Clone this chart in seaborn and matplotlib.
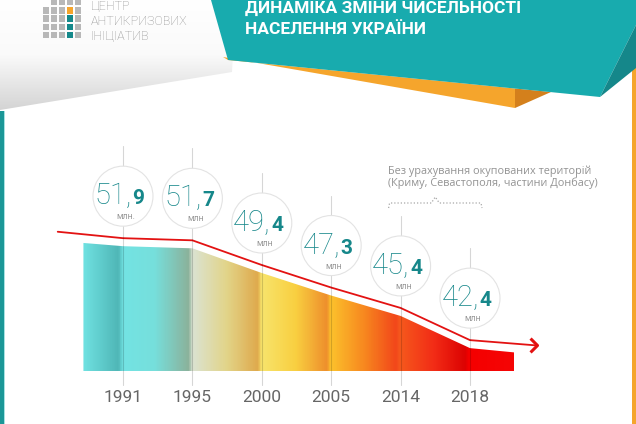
import matplotlib
matplotlib.use('Agg')
import matplotlib.pyplot as plt
import matplotlib.patches as mpatches
import matplotlib.transforms as mtransforms
from matplotlib.colors import LinearSegmentedColormap
from matplotlib.path import Path
import seaborn as sns
import numpy as np
import pandas as pd

# --- 1. data ---
years = ['1991', '1995', '2000', '2005', '2014', '2018']
population = [51.9, 51.7, 49.4, 47.3, 45.4, 42.4]          # млн
units = ['млн.', 'млн', 'млн', 'млн', 'млн', 'млн']
area_edge_vals = [52.2, 42.0]      # fill tails before 1991 / after 2018
line_edge_vals = [52.5, 41.9]      # red line tails
title_lines = ['ДИНАМІКА ЗМІНИ ЧИСЕЛЬНОСТІ', 'НАСЕЛЕННЯ УКРАЇНИ']
logo_lines = ['ЦЕНТР', 'АНТИКРИЗОВИХ', 'ІНІЦІАТИВ']
note_lines = ['Без урахування окупованих територій',
              '(Криму, Севастополя, частини Донбасу)']

df = pd.DataFrame({'year': years, 'pos': np.arange(len(years)), 'pop': population})

# --- 2. figure / axes ---
W, H = 636, 424
sns.set_theme(style='white')
plt.rcParams['font.family'] = ['Roboto', 'DejaVu Sans']
fig = plt.figure(figsize=(W / 100, H / 100), dpi=100, facecolor='white')

ax = fig.add_axes([0, 0, 1, 1], zorder=1)
floor = 40.27   # bottom of the coloured area

teal = '#16878a'
red = '#e31212'

# a) gradient area
area_x = [-0.57] + list(df['pos']) + [5.64]
area_y = [area_edge_vals[0]] + list(df['pop']) + [area_edge_vals[1]]
stops = [(-0.57, '#6fe1e1'), (-0.07, '#4fb6b6'), (0.0, '#73e3e3'), (0.45, '#76dfdc'),
         (0.95, '#8bb19a'), (1.0, '#dbe3d2'), (1.5, '#e2d488'), (1.95, '#dfa94c'),
         (2.0, '#f7e46c'), (2.5, '#f9cf40'), (2.95, '#ee8e2c'), (3.0, '#fcc22c'),
         (3.5, '#f7861f'), (3.95, '#f2461a'), (4.0, '#f6591d'), (4.5, '#f22c16'),
         (4.95, '#dc0202'), (5.0, '#f50000'), (5.64, '#f50505')]
x0, x1 = area_x[0], area_x[-1]
cmap = LinearSegmentedColormap.from_list('pop', [((s - x0) / (x1 - x0), c) for s, c in stops])
grad = cmap(np.linspace(0, 1, 800))[None, :, :]
im = ax.imshow(grad, extent=[x0, x1, floor, max(area_y) + 1], aspect='auto',
               interpolation='bilinear', origin='lower', zorder=1)
poly = ax.fill_between(area_x, area_y, floor, facecolor='none', edgecolor='none')
im.set_clip_path(poly.get_paths()[0], transform=ax.transData)

# b) red trend line, lifted a few pixels above the area
lift = mtransforms.offset_copy(ax.transData, fig=fig, x=0, y=8, units='dots')
line_x = [-0.94] + list(df['pos']) + [5.97]
line_y = [line_edge_vals[0]] + list(df['pop']) + [line_edge_vals[1]]
sns.lineplot(x=line_x, y=line_y, ax=ax, color=red, lw=1.3, sort=False,
             transform=lift, zorder=3)
chevron = Path([(-1, 1), (0, 0), (-1, -1)], [Path.MOVETO, Path.LINETO, Path.LINETO])
ax.plot([line_x[-1]], [line_y[-1]], marker=chevron, ms=10, mew=2.2, mec=red,
        mfc='none', transform=lift, zorder=4, solid_joinstyle='miter')
ax.set_xlim(-1.772, 7.392)
ax.set_ylim(35.33, 74.84)
ax.axis('off')


def to_px(x, v):
    dx, dy = ax.transData.transform((x, v))
    return dx, H - dy


# --- 3. overlay in pixel coordinates (header, bubbles, labels) ---
ov = fig.add_axes([0, 0, 1, 1], zorder=2)

# header: grey paper
paper = mpatches.Polygon([(0, 0), (236, 0), (232, 72), (0, 110)], closed=True,
                         facecolor='none', edgecolor='none')
ov.add_patch(paper)
pg = LinearSegmentedColormap.from_list('paper', ['#ffffff', '#fafafa', '#d4d4d4'])
pim = ov.imshow(pg(np.linspace(0, 1, 200))[:, None, :], extent=[0, 240, 110, 0],
                aspect='auto', interpolation='bilinear', zorder=1)
pim.set_clip_path(paper)

# orange ribbon under the teal banner
ov.add_patch(mpatches.Polygon([(223, 57), (515, 108), (515, 88.5), (228, 60)],
                              facecolor='#f5a52c', edgecolor='none', zorder=2))
ov.add_patch(mpatches.Polygon([(515, 88.5), (515, 108), (551, 92)],
                              facecolor='#d4801c', edgecolor='none', zorder=2))
# teal banner
ov.add_patch(mpatches.Polygon([(211, 0), (636, 0), (636, 25), (600, 97), (228, 60)],
                              facecolor='#18abae', edgecolor='none', zorder=3))
ov.add_patch(mpatches.Polygon([(600, 97), (636, 25), (636, 68)],
                              facecolor='#15878a', edgecolor='none', zorder=3))
# side bars
ov.add_patch(mpatches.Rectangle((0, 111), 4, H - 111, facecolor='#1b9797',
                                edgecolor='none', zorder=2))
ov.add_patch(mpatches.Rectangle((4, 111), 1, H - 111, facecolor='#a6e2e2',
                                edgecolor='none', zorder=2))
ov.add_patch(mpatches.Rectangle((632, 67), 4, H - 67, facecolor='#f5a52c',
                                edgecolor='none', zorder=2))

for j, t in enumerate(title_lines):
    ov.text(245, 13 + 21 * j, t, color='white', fontsize=12.5, fontweight='bold',
            ha='left', va='baseline', zorder=5)

# logo
for r in range(5):
    for c in range(5):
        if r == 0 and c == 0:
            continue
        col = '#b8b8b8'
        if c == 3 and r == 1:
            col = '#f5a52c'
        elif c == 3 and r > 1:
            col = '#15898b'
        ov.add_patch(mpatches.Rectangle((43 + 8 * c, -1 + 8.2 * r), 6.4, 6.4,
                                        facecolor=col, edgecolor='none', zorder=4))
for j, t in enumerate(logo_lines):
    ov.text(91, 10 + 15.2 * j, t, color='#8f8f8f', fontsize=9, fontweight='light',
            ha='left', va='baseline', zorder=5)

# note with dotted brace
for j, t in enumerate(note_lines):
    ov.text(388, 171 + 12.5 * j, t, color='#939393', fontsize=7.8,
            family=['Open Sans', 'DejaVu Sans'], ha='left', va='center', zorder=5)
bx4, _ = to_px(4, population[4])
bx5, _ = to_px(5, population[5])
mid = (bx4 + bx5) / 2
ov.plot([bx4 - 12, bx4 - 11, mid - 4, mid, mid + 4, bx5 + 11, bx5 + 12],
        [208, 203, 203, 197, 203, 203, 208], color='#a8a8a8', lw=0.9,
        ls=(0, (1, 1.6)), zorder=5)

# bubbles, guide lines and year labels
for i, row in df.iterrows():
    cx, ay = to_px(row['pos'], row['pop'])
    cy = ay - 50
    ov.plot([cx, cx], [cy - 50, 385], color=(0, 0, 0, 0.16), lw=0.8, zorder=5)
    ov.add_patch(mpatches.Circle((cx, cy), 30, facecolor='white', edgecolor='#e3e3e3',
                                 lw=0.8, zorder=6))
    whole, frac = f"{row['pop']:.1f}".split('.')
    ov.text(cx + 9, cy + 8, whole + ',', color=teal, fontsize=21, fontweight='light',
            ha='right', va='baseline', zorder=7)
    ov.text(cx + 9.5, cy + 8, frac, color=teal, fontsize=15, fontweight='bold',
            ha='left', va='baseline', zorder=7)
    ov.text(cx + 3, cy + 20.5, units[i], color='#9a9a9a', fontsize=6.3,
            ha='center', va='center', zorder=7)
    ov.text(cx, 398, row['year'], color='#666666', fontsize=12.5,
            ha='center', va='center', zorder=7)

ov.set_xlim(0, W)
ov.set_ylim(H, 0)
ov.axis('off')

fig.savefig('out.png', dpi=100, facecolor='white')
